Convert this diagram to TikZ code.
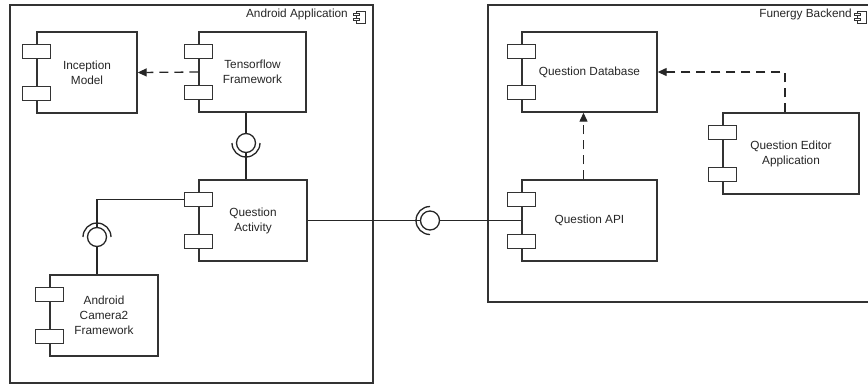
\documentclass[tikz,border=0pt]{standalone}
\usepackage{fontspec}
\setmainfont{Liberation Sans}
\usetikzlibrary{arrows.meta}

\tikzset{
    comp/.style={draw=black!80, line width=1.4pt, rectangle, fill=white, minimum height=81pt, align=center, font=\fontsize{11.8}{15}\selectfont, text=black!85},
    port/.style={draw=black!80, line width=1.4pt, rectangle, fill=white, minimum width=28pt, minimum height=14pt, inner sep=0pt},
    frame/.style={draw=black!80, line width=1.8pt},
    framelbl/.style={anchor=east, inner sep=0pt, font=\fontsize{11.8}{14}\selectfont, text=black!85},
    wire/.style={draw=black!85, line width=1.3pt},
    ball/.style={circle, draw=black!85, line width=1.3pt, minimum size=19pt, inner sep=0pt},
    dep/.style={draw=black!85, line width=1.3pt, dash pattern=on 9pt off 6pt, -{Triangle[length=9pt, width=8pt]}},
    compicon/.pic={
        \draw[line width=0.6pt, black!80, fill=white] (-4,-6) rectangle (5,6);
        \draw[line width=0.6pt, black!80, fill=white] (-7,-3.5) rectangle (-1,-1.5);
        \draw[line width=0.6pt, black!80, fill=white] (-7,1.5) rectangle (-1,3.5);
    }
}

\begin{document}
\begin{tikzpicture}[x=1pt, y=-1pt]
        \useasboundingbox (0,0) rectangle (868,384);
        \draw[frame] (10,5) rectangle (373,383);
        \draw[frame] (868,5) -- (488,5) -- (488,302) -- (868,302);
        \node[framelbl] (androidlbl) at (348,14) {Android Application};
        \pic at (360,17) {compicon};
        \node[framelbl] (funergylbl) at (852,14) {Funergy Backend};
        \pic at (861,17) {compicon};

        \node[comp, minimum width=100pt] (inc) at (87,72.5) {Inception\\Model};
        \node[comp, minimum width=107pt, minimum height=80pt] (tf) at (252.5,72) {Tensorflow\\Framework};
        \node[comp, minimum width=108pt] (qa) at (253,220.5) {Question\\Activity};
        \node[comp, minimum width=108pt] (cam) at (104,315.5) {Android\\Camera2\\Framework};
        \node[comp, minimum width=135pt, minimum height=80pt] (db) at (589.5,72) {Question Database};
        \node[comp, minimum width=135pt] (api) at (589.5,220.5) {Question API};
        \node[comp, minimum width=136pt] (qea) at (791,153.5) {Question Editor\\Application};

        \foreach \c in {inc,tf,qa,cam,db,api,qea}{
            \node[port] (\c p1) at ([yshift=-20pt]\c.north west) {};
            \node[port] (\c p2) at ([yshift=20pt]\c.south west) {};
        }

        \draw[dep] (tf.west) -- (inc.east);
        \draw[dep] ([xshift=-6pt]api.north) -- ([xshift=-6pt]db.south);
        \draw[dep] ([xshift=-6pt]qea.north) |- (db.east);

        \node[ball] (tfball) at (246,143) {};
        \draw[wire] (tfball |- tf.south) -- (tfball);
        \draw[wire] (tfball) -- (tfball |- qa.north);
        \draw[wire] ([xshift=14pt]tfball.center) arc[start angle=0, end angle=180, radius=14];

        \node[ball] (camball) at (97,237) {};
        \draw[wire] (qap1.west) -| (camball);
        \draw[wire] (camball) -- (camball |- cam.north);
        \draw[wire] ([xshift=-14pt]camball.center) arc[start angle=180, end angle=360, radius=14];

        \node[ball] (apiball) at (430,220.5) {};
        \draw[wire] (qa.east) -- (apiball);
        \draw[wire] (apiball) -- (api.west);
        \draw[wire] ([yshift=14pt]apiball.center) arc[start angle=270, end angle=90, radius=14];
\end{tikzpicture}
\end{document}
